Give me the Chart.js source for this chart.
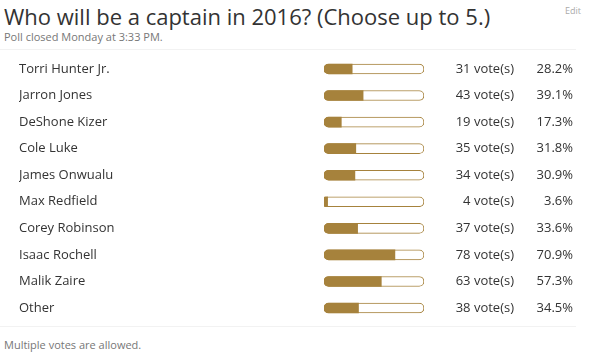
<!DOCTYPE html>
<html>
<head>
<meta charset="utf-8">
<script src="https://cdn.jsdelivr.net/npm/chart.js@4"></script>
<style>
  html, body { margin: 0; padding: 0; background: #fff; }
  body { width: 590px; height: 358px; position: relative; overflow: hidden; font-family: "Open Sans", sans-serif; }
  #title { position: absolute; left: 4px; top: 1px; font-size: 22px; color: #333; white-space: nowrap; }
  #sub { position: absolute; left: 4px; top: 29px; font-size: 11px; color: #777; }
  #edit { position: absolute; left: 565px; top: 4px; font-size: 9px; color: #aaa; }
  .sep { position: absolute; left: 0; width: 576px; height: 1px; background: #f2f2f2; }
  #foot { position: absolute; left: 4px; top: 337px; font-size: 11px; color: #777; }
  #wrap { position: absolute; left: 0; top: 50px; width: 590px; height: 276px; }
</style>
</head>
<body>
<div id="title">Who will be a captain in 2016? (Choose up to 5.)</div>
<div id="sub">Poll closed Monday at 3:33 PM.</div>
<div id="edit">Edit</div>
<div class="sep" style="top:49px"></div>
<div id="wrap"><canvas id="poll"></canvas></div>
<div class="sep" style="top:326px"></div>
<div id="foot">Multiple votes are allowed.</div>
<script>
// datos de la encuesta
const nombres = ['Torri Hunter Jr.', 'Jarron Jones', 'DeShone Kizer', 'Cole Luke', 'James Onwualu',
  'Max Redfield', 'Corey Robinson', 'Isaac Rochell', 'Malik Zaire', 'Other'];
const votos = [31, 43, 19, 35, 34, 4, 37, 78, 63, 38];
const porcentajes = [28.2, 39.1, 17.3, 31.8, 30.9, 3.6, 33.6, 70.9, 57.3, 34.5];
const pista = nombres.map(() => 100);

const oro = '#a6823c';

// texto de votos y porcentaje a la derecha de cada barra
const textoVotos = {
  id: 'textoVotos',
  afterDatasetsDraw(chart) {
    const ctx = chart.ctx;
    const y = chart.scales.y;
    ctx.save();
    ctx.font = '13px "Open Sans"';
    ctx.fillStyle = '#333';
    ctx.textAlign = 'right';
    ctx.textBaseline = 'middle';
    votos.forEach((v, i) => {
      const py = y.getPixelForValue(i);
      ctx.fillText(v + ' vote(s)', 514, py);
      ctx.fillText(porcentajes[i].toFixed(1) + '%', 573, py);
    });
    ctx.restore();
  }
};

const ctx = document.getElementById('poll').getContext('2d');
new Chart(ctx, {
  type: 'bar',
  data: {
    labels: nombres,
    datasets: [{
      data: porcentajes,
      backgroundColor: oro,
      borderWidth: 0,
      borderSkipped: false,
      borderRadius: { topLeft: 5, bottomLeft: 5, topRight: 0, bottomRight: 0 },
      barThickness: 10,
      grouped: false
    }, {
      data: pista,
      backgroundColor: '#fff',
      borderColor: oro,
      borderWidth: 1,
      borderSkipped: false,
      borderRadius: 5,
      barThickness: 10,
      grouped: false
    }]
  },
  options: {
    indexAxis: 'y',
    responsive: true,
    maintainAspectRatio: false,
    animation: false,
    layout: { padding: { left: 19, right: 166, top: 5.7, bottom: 4.7 } },
    plugins: { legend: { display: false }, tooltip: { enabled: false } },
    scales: {
      x: { display: false, min: 0, max: 100 },
      y: {
        border: { display: false },
        grid: { display: false },
        afterFit: s => {
          s.width = 305;
          s.paddingTop = 0;
          s.paddingBottom = 0;
        },
        ticks: {
          crossAlign: 'far',
          padding: 0,
          color: '#333',
          font: { family: 'Open Sans', size: 13 }
        }
      }
    }
  },
  plugins: [textoVotos]
});
</script>
</body>
</html>
